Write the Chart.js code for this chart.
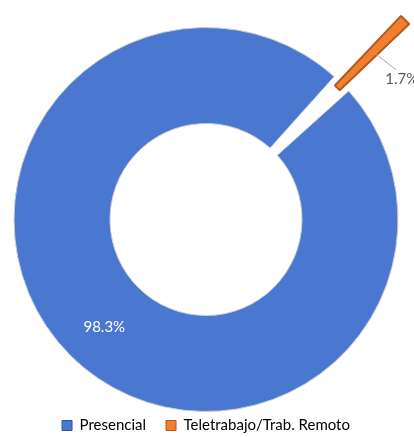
<!DOCTYPE html>
<html>
<head>
<meta charset="utf-8">
<script src="https://cdn.jsdelivr.net/npm/chart.js@4"></script>
<style>
  html, body { margin: 0; padding: 0; background: #fff; }
  #wrap { width: 414px; height: 437px; }
</style>
</head>
<body>
<div id="wrap"><canvas id="grafico"></canvas></div>
<script>
// datos del gráfico
const categorias = ['Presencial', 'Teletrabajo/Trab. Remoto'];
const porcentajes = [98.3, 1.7];
const colores = ['#4A78D0', '#F07F2E'];
const bordes = ['#C9CED8', '#B8581A'];
const desplazamientos = [0, 190];

const fuente = 'Lato, "Open Sans", sans-serif';

// degradado para el anillo azul (efecto bisel de Excel)
function relleno(ctx) {
    if (ctx.dataIndex !== 0) return colores[ctx.dataIndex];
    const chart = ctx.chart;
    const arc = chart.getDatasetMeta(0).data[0];
    if (!arc || !isFinite(arc.x) || !isFinite(arc.innerRadius) || !(arc.outerRadius > 0)) return colores[0];
    const g = chart.ctx.createRadialGradient(arc.x, arc.y, arc.innerRadius, arc.x, arc.y, arc.outerRadius);
    g.addColorStop(0, '#6D9BEA');
    g.addColorStop(0.07, '#4C7BD3');
    g.addColorStop(0.9, '#4877CF');
    g.addColorStop(0.96, '#5B8BE0');
    g.addColorStop(1, '#3E66B5');
    return g;
}

// etiquetas de porcentaje
const etiquetas = {
    id: 'etiquetas',
    afterDatasetsDraw(chart) {
        const ctx = chart.ctx;
        const meta = chart.getDatasetMeta(0);
        ctx.save();
        ctx.font = '15px ' + fuente;
        ctx.textBaseline = 'middle';
        meta.data.forEach((arc, i) => {
            const texto = porcentajes[i].toFixed(1) + '%';
            const mid = (arc.startAngle + arc.endAngle) / 2;
            if (!desplazamientos[i]) {
                const p = arc.tooltipPosition();
                ctx.fillStyle = '#ffffff';
                ctx.textAlign = 'center';
                ctx.fillText(texto, p.x, p.y + 6);
                return;
            }
            // porción separada: línea guía y texto a la derecha
            const off = desplazamientos[i] / 4;
            const fix = 1 - Math.sin(Math.min(Math.PI, arc.circumference));
            const r = (arc.innerRadius + arc.outerRadius) / 2 + off * (1 + fix);
            const x0 = arc.x + Math.cos(mid) * r;
            const y0 = arc.y + Math.sin(mid) * r;
            ctx.strokeStyle = '#A6A6A6';
            ctx.lineWidth = 1;
            ctx.beginPath();
            ctx.moveTo(x0 + 3, y0 - 1);
            ctx.lineTo(x0 + 25, y0 + 16);
            ctx.stroke();
            ctx.fillStyle = '#595959';
            ctx.textAlign = 'left';
            ctx.fillText(texto, x0 + 14, y0 + 25);
        });
        ctx.restore();
    }
};

new Chart(document.getElementById('grafico'), {
    type: 'doughnut',
    data: {
        labels: categorias,
        datasets: [{
            data: porcentajes,
            backgroundColor: relleno,
            borderColor: bordes,
            borderWidth: [1, 2],
            offset: desplazamientos,
            hoverOffset: 0,
            clip: false
        }]
    },
    options: {
        responsive: true,
        maintainAspectRatio: false,
        animation: false,
        rotation: 48,
        cutout: '50%',
        radius: 192,
        layout: { padding: { top: 41, right: 2, left: 0, bottom: -6 } },
        plugins: {
            tooltip: { enabled: false },
            legend: {
                position: 'bottom',
                labels: {
                    color: '#595959',
                    font: { family: fuente, size: 15 },
                    boxWidth: 10,
                    boxHeight: 10,
                    padding: 20,
                    generateLabels: (chart) => categorias.map((c, i) => ({
                        text: c,
                        fillStyle: colores[i],
                        strokeStyle: i === 0 ? '#2F5597' : '#B8581A',
                        lineWidth: 1,
                        index: i
                    }))
                }
            }
        }
    },
    plugins: [etiquetas]
});
</script>
</body>
</html>
